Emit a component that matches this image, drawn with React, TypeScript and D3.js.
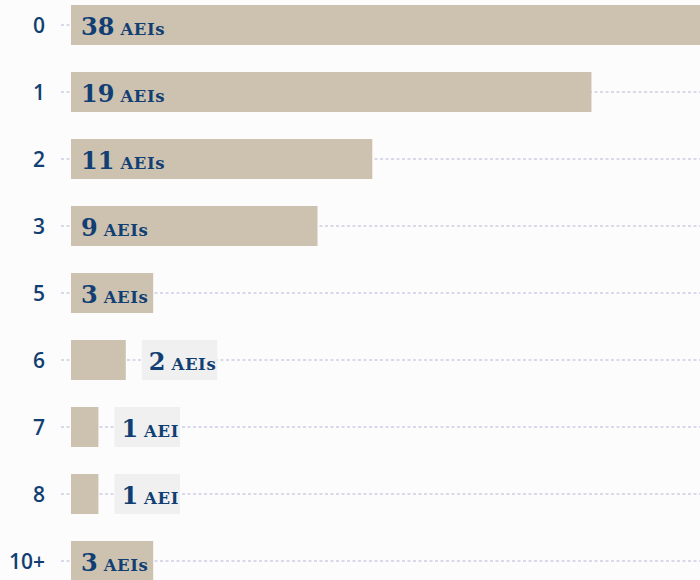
import React, { useEffect, useRef } from "react";
import * as d3 from "d3";

const categories = ["0", "1", "2", "3", "5", "6", "7", "8", "10+"];
const counts = [38, 19, 11, 9, 3, 2, 1, 1, 3];

const W = 700;
const H = 580;
const textColor = "#123f73";
const barColor = "#cdc2b0";

export default function App() {
  const ref = useRef<SVGSVGElement>(null);

  useEffect(() => {
    const svg = d3.select(ref.current);
    svg.selectAll("*").remove();

    svg.append("rect").attr("width", W).attr("height", H).attr("fill", "#fcfcfc");

    const y = d3.scaleBand<string>()
      .domain(categories)
      .range([5, 581])
      .paddingInner(27 / 67)
      .paddingOuter(0);

    // 38 runs off the right edge on purpose
    const x = d3.scaleLinear().domain([0, 23]).range([71, 701]);

    const data = categories.map((c, i) => ({ cat: c, n: counts[i] }));
    const mid = (d) => y(d.cat) + y.bandwidth() / 2;

    const g = svg.append("g");

    // dashed guide lines
    g.selectAll("line.grid")
      .data(data)
      .join("line")
      .attr("class", "grid")
      .attr("x1", 61)
      .attr("x2", W)
      .attr("y1", mid)
      .attr("y2", mid)
      .attr("stroke", "#b4b8d6")
      .attr("stroke-width", 1)
      .attr("stroke-dasharray", "3,2.5");

    // category labels
    g.selectAll("text.cat")
      .data(data)
      .join("text")
      .attr("class", "cat")
      .attr("x", 45)
      .attr("y", (d) => mid(d) + 7.5)
      .attr("text-anchor", "end")
      .attr("font-family", "'Open Sans', 'Noto Sans', sans-serif")
      .attr("font-weight", 600)
      .attr("font-size", 21)
      .attr("fill", textColor)
      .text((d) => d.cat);

    g.selectAll("rect.bar")
      .data(data)
      .join("rect")
      .attr("class", "bar")
      .attr("x", x(0))
      .attr("y", (d) => y(d.cat))
      .attr("width", (d) => x(d.n) - x(0))
      .attr("height", y.bandwidth())
      .attr("fill", barColor);

    data.forEach((d) => {
      const lg = g.append("g");
      const bg = lg.append("rect");
      const t = lg.append("text")
        .attr("y", mid(d) + 10)
        .attr("font-family", "'DejaVu Serif', serif")
        .attr("font-weight", 700)
        .attr("fill", textColor);
      t.append("tspan").attr("font-size", 24).text(d.n);
      t.append("tspan").attr("font-size", 16.5).attr("dx", 6)
        .attr("letter-spacing", 0.6)
        .text(d.n === 1 ? "AEI" : "AEIs");
      const tw = (t.node() as SVGTextElement).getComputedTextLength();
      const barW = x(d.n) - x(0);
      if (barW >= tw + 20) {
        t.attr("x", x(0) + 10);
        bg.remove();
      } else {
        const bx = x(d.n) + 16;
        bg.attr("x", bx)
          .attr("y", y(d.cat))
          .attr("width", tw + 14)
          .attr("height", y.bandwidth())
          .attr("fill", "#f0f0f0");
        t.attr("x", bx + 7);
      }
    });
  }, []);

  return (
    <div style={{ position: "fixed", left: 0, top: 0 }}>
      <svg ref={ref} width={W} height={H} style={{ display: "block" }}></svg>
    </div>
  );
}
